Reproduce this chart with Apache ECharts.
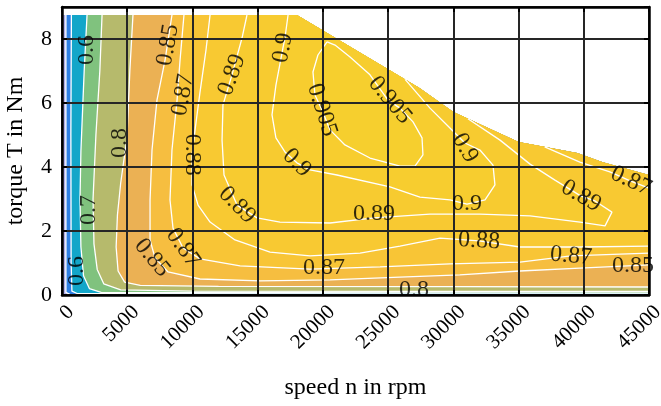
<!DOCTYPE html>
<html>
<head>
<meta charset="utf-8">
<script src="https://cdn.jsdelivr.net/npm/echarts@6/dist/echarts.min.js"></script>
<style>html,body{margin:0;padding:0;background:#fff}#map{width:661px;height:406px}</style>
</head>
<body>
<div id="map"></div>
<script>
// torque limit (speed rpm, torque Nm)
var envelope = [[0,8.75],[18000,8.75],[27400,6.47],[30000,5.72],[35000,4.78],[39500,4.44],[41400,4.16],[45000,3.75]];

// efficiency contour lines
var c40 = [[300,8.75],[300,0.08],[600,0.02],[45000,0.01]];
var c50 = [[720,8.75],[680,5],[700,1],[760,0.12],[1200,0.04],[45000,0.03]];
var c60 = [[1920,8.75],[1700,7],[1450,4.5],[1380,3],[1450,1.5],[1650,0.6],[2100,0.2],[3000,0.08],[45000,0.06]];
var c70 = [[3070,8.75],[2900,7],[2600,5],[2380,3],[2450,1.6],[2700,0.8],[3200,0.35],[4500,0.16],[10000,0.12],[45000,0.11]];
var c80 = [[5440,8.75],[5200,7],[4980,4.9],[4500,3.5],[4250,2.5],[4150,1.5],[4300,0.75],[4800,0.4],[6000,0.3],[12000,0.27],[30000,0.26],[45000,0.25]];
var c85 = [[8430,8.75],[7900,7.34],[7280,6.09],[6900,4.53],[6750,2.97],[6750,1.72],[7130,1.16],[8130,0.72],[10580,0.5],[15180,0.44],[20550,0.47],[25900,0.56],[30500,0.63],[35100,0.75],[39700,0.84],[45000,0.94]];
var c87 = [[9350,8.75],[9050,7.34],[8820,6.09],[8430,4.53],[8280,2.97],[8510,2.09],[9280,1.47],[10580,1.13],[13650,0.91],[19010,0.81],[24380,0.88],[29740,0.97],[35110,1.03],[39020,1.22],[42780,1.28],[45000,1.31]];
var c87top = [[37000,4.63],[39700,4.15],[42000,3.85],[43600,3.56],[45000,3.34]];
var c88 = [[11350,8.75],[11040,7.66],[10580,6.34],[10200,5.16],[9970,4.38],[9970,3.44],[10430,2.81],[11350,2.28],[13260,1.72],[15950,1.34],[19010,1.22],[22850,1.31],[25910,1.53],[28980,1.78],[31970,1.69],[35110,1.5],[39710,1.5],[45000,1.53]];
var c89 = [[14180,8.75],[13800,8.03],[13030,6.88],[12340,5.94],[12270,4.84],[12420,3.75],[13420,2.81],[14950,2.41],[16710,2.28],[20550,2.25],[23920,2.41],[28210,2.53],[32040,2.53],[35880,2.47],[39710,2.28],[41630,2.16],[42160,2.59],[40860,2.94],[39790,3.09],[37790,3.59],[35880,4.09],[33580,4.84],[31120,5.51]];
var c90 = [[17330,8.75],[17090,8.03],[16940,7.72],[16400,6.56],[16100,5.63],[16400,4.91],[17090,4.47],[18010,4.13],[19010,3.91],[21080,3.75],[25140,3.38],[27440,3.06],[29740,2.97],[31050,2.84],[32430,2.97],[33190,3.44],[33040,4.06],[32040,4.53],[30890,4.75],[29740,5.22],[28210,5.84],[26300,6.74]];
var c905 = [[20320,7.91],[19620,7.5],[19240,6.97],[19390,6.25],[19930,5.78],[20550,5.16],[21690,4.69],[23610,4.28],[25910,4.03],[27060,4.03],[27670,4.38],[27600,4.91],[26910,5.41],[25910,5.84],[24990,6.09],[23610,6.88],[22080,7.44],[20930,7.81],[20320,7.91]];

var contourLines = [c40, c50, c60, c70, c80, c85, c87, c87top, c88, c89, c90, c905];

// fill colours, lowest band first
var bandColors = ['#b0aee8','#2f7fe3','#13a6c9','#80c27e','#b6ba6c','#ebb154','#f6be40','#f8c536','#f8c932','#f7cb30','#f7cd2f','#f6cf2e'];

// contour labels
var labelText   = ['0.6','0.6','0.7','0.8','0.85','0.87','0.88','0.89','0.9','0.905','0.905','0.9','0.9','0.89','0.89','0.9','0.88','0.87','0.87','0.85','0.8','0.89','0.87','0.85','0.87'];
var labelSpeed  = [1920,1150,2070,4450,8130,9280,9970,13030,16940,19930,25140,18010,30890,13420,23920,31050,31970,20090,39020,43770,26980,39790,43620,6900,9280];
var labelTorque = [7.66,0.75,2.66,4.75,7.81,6.25,4.38,6.88,7.72,5.78,6.09,4.13,4.59,2.81,2.53,2.84,1.69,0.84,1.22,0.91,0.16,3.09,3.56,1.16,1.47];
var labelAngle  = [90,90,90,90,80,80,-90,70,80,-72,-50,-45,-60,-45,0,0,-3,0,-5,0,0,-30,-25,-50,-55];

function envBetween(a, b) {
  return envelope.filter(function (p) { return p[0] > a && p[0] <= b; }).reverse();
}
function region(c) {
  return c.concat(envBetween(c[0][0], c[c.length - 1][0]));
}
var fillPolys = [
  envelope.concat([[45000,0],[0,0]]),
  region(c40), region(c50), region(c60), region(c70), region(c80), region(c85),
  c87.concat(c87top.slice().reverse()).concat(envBetween(c87[0][0], c87top[0][0])),
  region(c88), region(c89), region(c90), c905
];

var serif = 'Liberation Serif';
var chart = echarts.init(document.getElementById('map'));

var series = [{
  type: 'custom',
  z: 1,
  silent: true,
  data: fillPolys.map(function (p, i) { return [i, 0]; }),
  renderItem: function (params, api) {
    var pts = fillPolys[params.dataIndex].map(function (p) { return api.coord(p); });
    return { type: 'polygon', shape: { points: pts }, style: { fill: bandColors[params.dataIndex] } };
  }
}];
contourLines.forEach(function (c) {
  series.push({
    type: 'line', data: c, z: 2, silent: true, showSymbol: false, symbol: 'none',
    lineStyle: { color: '#fff', width: 1.3 }
  });
});
series.push({
  type: 'scatter', z: 10, silent: true, symbolSize: 1,
  itemStyle: { color: 'rgba(0,0,0,0)' },
  label: { show: true, position: 'inside', formatter: '{b}', color: '#000', fontFamily: serif, fontSize: 24 },
  data: labelText.map(function (t, i) {
    return { name: t, value: [labelSpeed[i], labelTorque[i]], label: { rotate: labelAngle[i] } };
  })
});

var frameLine = { show: true, onZero: false, lineStyle: { color: '#000', width: 2.5 } };
var innerTick = { show: true, inside: true, length: 5, lineStyle: { color: '#000', width: 2 } };
var gridLine = { show: true, lineStyle: { color: '#262626', width: 2 } };

var option = {
  animation: false,
  grid: { left: 62, right: 12, top: 7, bottom: 111, outerBoundsMode: 'none', containLabel: false },
  xAxis: [{
    type: 'value', min: 0, max: 45000, interval: 5000, position: 'bottom', z: 5,
    axisLine: frameLine, axisTick: innerTick, splitLine: gridLine,
    axisLabel: {
      rotate: 45, fontSize: 21, fontFamily: serif, color: '#000', margin: 5,
      verticalAlign: 'top', padding: [2, 0, 0, 0],
      formatter: function (v) { return String(v); }
    },
    name: 'speed n in rpm', nameLocation: 'middle', nameGap: 81,
    nameTextStyle: { fontSize: 24, fontFamily: serif, color: '#000' }
  }, {
    type: 'value', min: 0, max: 45000, interval: 5000, position: 'top', z: 5,
    axisLine: frameLine, axisTick: innerTick, splitLine: { show: false }, axisLabel: { show: false }
  }],
  yAxis: [{
    type: 'value', min: 0, max: 9, interval: 2, position: 'left', z: 5,
    axisLine: frameLine, axisTick: innerTick, splitLine: gridLine,
    axisLabel: { fontSize: 22, fontFamily: serif, color: '#000', margin: 10, showMaxLabel: false },
    name: 'torque T in Nm', nameLocation: 'middle', nameGap: 34,
    nameTextStyle: { fontSize: 24, fontFamily: serif, color: '#000' }
  }, {
    type: 'value', min: 0, max: 9, interval: 2, position: 'right', z: 5,
    axisLine: frameLine, axisTick: innerTick, splitLine: { show: false }, axisLabel: { show: false }
  }],
  series: series
};
chart.setOption(option);
</script>
</body>
</html>
